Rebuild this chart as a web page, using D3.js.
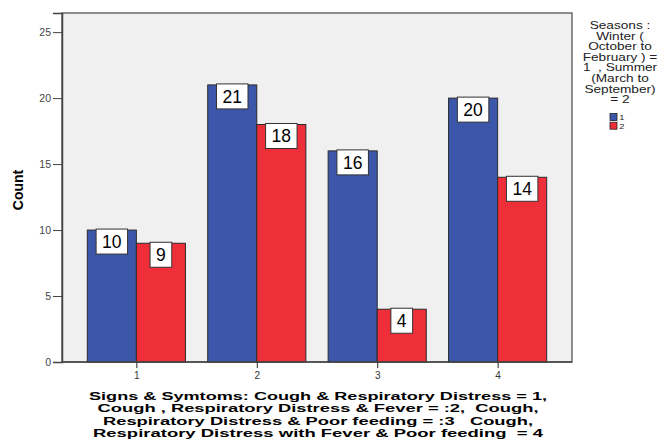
<!DOCTYPE html>
<html>
<head>
<meta charset="utf-8">
<script src="https://cdn.jsdelivr.net/npm/d3@7"></script>
<style>
  body { margin: 0; background: #fff; }
  text { font-family: "Liberation Sans", Arial, sans-serif; }
</style>
</head>
<body>
<script>
// data
let categories = ["1", "2", "3", "4"];
let seasons = ["1", "2"];
let winter = [10, 21, 16, 20];
let summer = [9, 18, 4, 14];
let yTicks = [0, 5, 10, 15, 20, 25];
let xTitleLines = [
  "Signs & Symtoms: Cough & Respiratory Distress = 1,",
  "Cough , Respiratory Distress & Fever = :2,  Cough,",
  "Respiratory Distress & Poor feeding = :3   Cough,",
  "Respiratory Distress with Fever & Poor feeding  = 4"
];
let legendTitle = ["Seasons :", "Winter (", "October to", "February ) =", "1  , Summer", "(March to", "September)", "= 2"];
let colors = ["#3c57aa", "#ee2f3a"];

let W = 664, H = 443;
let plot = {left: 62, right: 572, top: 13, bottom: 362};

let svg = d3.select("body").append("svg")
    .attr("width", W)
    .attr("height", H);

// scales
let x = d3.scaleBand()
    .domain(categories)
    .range([plot.left, plot.right])
    .paddingInner(0.185)
    .paddingOuter(0.21);
let xs = d3.scaleBand().domain(seasons).range([0, x.bandwidth()]);
let y = d3.scaleLinear().domain([0, 26.45]).range([plot.bottom, plot.top]);

// plot background
svg.append("rect")
    .attr("x", plot.left).attr("y", plot.top)
    .attr("width", plot.right - plot.left)
    .attr("height", plot.bottom - plot.top)
    .attr("fill", "#f0f0f0")
    .attr("stroke", "#6a6a6a")
    .attr("stroke-width", 1.5);

let rows = categories.map((c, i) => ({cat: c, vals: [winter[i], summer[i]]}));

let grp = svg.selectAll(".grp")
    .data(rows)
    .enter().append("g")
    .attr("class", "grp")
    .attr("transform", d => "translate(" + x(d.cat) + ",0)");

let bars = grp.selectAll(".bar")
    .data(d => d.vals.map((v, j) => ({s: seasons[j], v: v, j: j})))
    .enter().append("g");

bars.append("rect")
    .attr("x", d => xs(d.s))
    .attr("y", d => y(d.v))
    .attr("width", xs.bandwidth())
    .attr("height", d => y(0) - y(d.v))
    .attr("fill", d => colors[d.j])
    .attr("stroke", "#2b2b2b")
    .attr("stroke-width", 1);

// value labels in white boxes
bars.each(function(d) {
  let g = d3.select(this);
  let cx = xs(d.s) + xs.bandwidth() / 2;
  let top = y(d.v) - 1;
  let t = g.append("text")
      .attr("x", cx)
      .attr("y", top + 19)
      .attr("text-anchor", "middle")
      .style("font-size", "17.5px")
      .attr("fill", "#000")
      .text(d.v);
  let w = t.node().getComputedTextLength() + 12;
  g.insert("rect", "text")
      .attr("x", cx - w / 2)
      .attr("y", top)
      .attr("width", w)
      .attr("height", 25)
      .attr("fill", "#fff")
      .attr("stroke", "#333")
      .attr("stroke-width", 1);
});

// y axis
let yAxis = d3.axisLeft(y).tickValues(yTicks).tickSize(9).tickPadding(2);
let gy = svg.append("g")
    .attr("transform", "translate(" + plot.left + ",0)")
    .call(yAxis);
gy.select(".domain").attr("stroke", "#444").attr("stroke-width", 1.5);
gy.selectAll(".tick line").attr("stroke", "#444");
gy.selectAll(".tick text")
    .style("font-size", "10.5px")
    .attr("fill", "#444")
    .style("font-family", "'Liberation Sans', Arial, sans-serif");

// x axis
let xAxis = d3.axisBottom(d3.scalePoint().domain(categories).range([x("1") + x.bandwidth() / 2, x("4") + x.bandwidth() / 2]))
    .tickSize(6).tickPadding(4).tickSizeOuter(0);
let gx = svg.append("g")
    .attr("transform", "translate(0," + plot.bottom + ")")
    .call(xAxis);
gx.select(".domain").remove();
svg.append("line")
    .attr("x1", plot.left).attr("x2", plot.right)
    .attr("y1", plot.bottom).attr("y2", plot.bottom)
    .attr("stroke", "#444").attr("stroke-width", 1.5);
gx.selectAll(".tick line").attr("stroke", "#222");
gx.selectAll(".tick text")
    .style("font-size", "10px")
    .attr("fill", "#333")
    .style("font-family", "'Liberation Sans', Arial, sans-serif");

// axis titles
svg.append("text")
    .attr("transform", "translate(23,190) rotate(-90)")
    .attr("text-anchor", "middle")
    .style("font-size", "14px")
    .style("font-weight", "bold")
    .text("Count");

let xLens = [458, 441, 430, 450];
let xBase = [399.5, 412, 424.5, 437];
svg.selectAll(".xt")
    .data(xTitleLines)
    .enter().append("text")
    .attr("x", 318)
    .attr("y", (d, i) => xBase[i])
    .attr("text-anchor", "middle")
    .attr("textLength", (d, i) => xLens[i])
    .attr("lengthAdjust", "spacingAndGlyphs")
    .style("font-size", "11.5px")
    .style("font-weight", "bold")
    .style("white-space", "pre")
    .text(d => d);

// legend (text is stretched sideways as in the picture)
let lg = svg.append("g")
    .attr("transform", "translate(620,0) scale(1.3,1)");
lg.selectAll(".lt")
    .data(legendTitle)
    .enter().append("text")
    .attr("x", 0)
    .attr("y", (d, i) => 29 + i * 10.6)
    .attr("text-anchor", "middle")
    .style("font-size", "10.5px")
    .style("white-space", "pre")
    .attr("fill", "#222")
    .text(d => d);

let leg = svg.selectAll(".leg")
    .data(seasons)
    .enter().append("g")
    .attr("transform", (d, i) => "translate(610," + (113.5 + i * 8.7) + ")");
leg.append("rect")
    .attr("width", 7).attr("height", 7)
    .attr("fill", (d, i) => colors[i])
    .attr("stroke", "#222").attr("stroke-width", 0.8);
leg.append("text")
    .attr("x", 7.5).attr("y", 6.8)
    .attr("transform", "scale(1.25,1)")
    .style("font-size", "7.5px")
    .attr("fill", "#222")
    .text(d => d);
</script>
</body>
</html>
